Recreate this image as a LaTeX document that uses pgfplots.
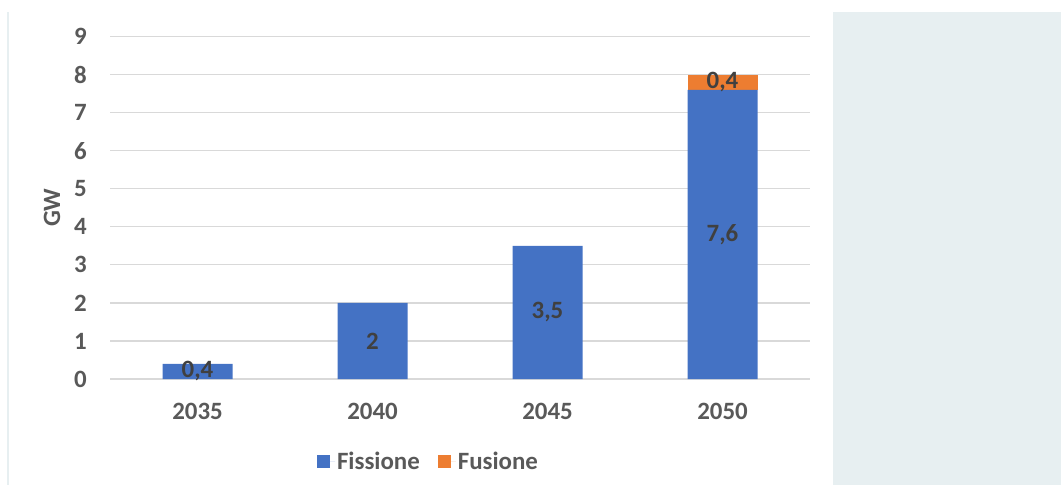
\documentclass[border=0pt]{standalone}
\usepackage{fontspec}
\setmainfont{Carlito}
\usepackage{pgfplots}
\pgfplotsset{compat=1.18}

\definecolor{fiss}{HTML}{4472C4}
\definecolor{fus}{HTML}{ED7D31}
\definecolor{gridc}{HTML}{D9D9D9}
\definecolor{tickc}{HTML}{595959}
\definecolor{labc}{HTML}{404040}
\definecolor{panel}{HTML}{E7EFF1}
\newcommand\lblfont{\fontsize{25}{29}\selectfont\bfseries}
\tikzset{vlab/.style={font=\lblfont, text=labc}}

\begin{document}
\begin{tikzpicture}
\path[use as bounding box] (0,0) rectangle (1061bp,485bp);
\fill[panel] (833bp,0) rectangle (1061bp,473bp);
\draw[panel, line width=2.5bp] (8bp,0) -- (8bp,473bp);
\begin{axis}[
    at={(110bp,106bp)}, anchor=south west,
    scale only axis, width=700bp, height=342.5bp,
    ybar stacked, bar width=70bp,
    xmin=-0.5, xmax=3.5, ymin=0, ymax=9,
    xtick=data, xticklabels={2035,2040,2045,2050},
    ytick={0,1,...,9},
    ymajorgrids, grid style={gridc, line width=1.3bp},
    axis line style={draw=none},
    major tick length=0pt,
    /pgf/number format/assume math mode=true,
    ticklabel style={font=\lblfont, text=tickc},
    yticklabel style={anchor=east, inner sep=0pt, xshift=-23bp},
    xticklabel style={anchor=center, inner sep=0pt, yshift=-32bp},
    ylabel={GW},
    ylabel style={at={(axis description cs:-0.0829,0.5)}, anchor=center,
        font=\lblfont, text=tickc},
    legend columns=2,
    legend style={at={(0.455,-0.242)}, anchor=center, draw=none, fill=none,
        font=\lblfont, text=tickc,
        /tikz/every even column/.append style={column sep=16bp}},
    legend image code/.code={\fill[#1] (0bp,-6.5bp) rectangle (13bp,6.5bp);
        \path (0bp,0bp) -- (18bp,0bp);},
    after end axis/.code={
        \node[vlab] at (axis cs:0,0.2) {0,4};
        \node[vlab] at (axis cs:1,1) {2};
        \node[vlab] at (axis cs:2,1.75) {3,5};
        \node[vlab] at (axis cs:3,3.8) {7,6};
        \node[vlab] at (axis cs:3,7.8) {0,4};
    },
]
\addplot[fill=fiss, draw=none] coordinates {(0,0.4) (1,2) (2,3.5) (3,7.6)};
\addlegendentry{Fissione}
\addplot[fill=fus, draw=none] coordinates {(0,0) (1,0) (2,0) (3,0.4)};
\addlegendentry{Fusione}
\end{axis}
\end{tikzpicture}
\end{document}
